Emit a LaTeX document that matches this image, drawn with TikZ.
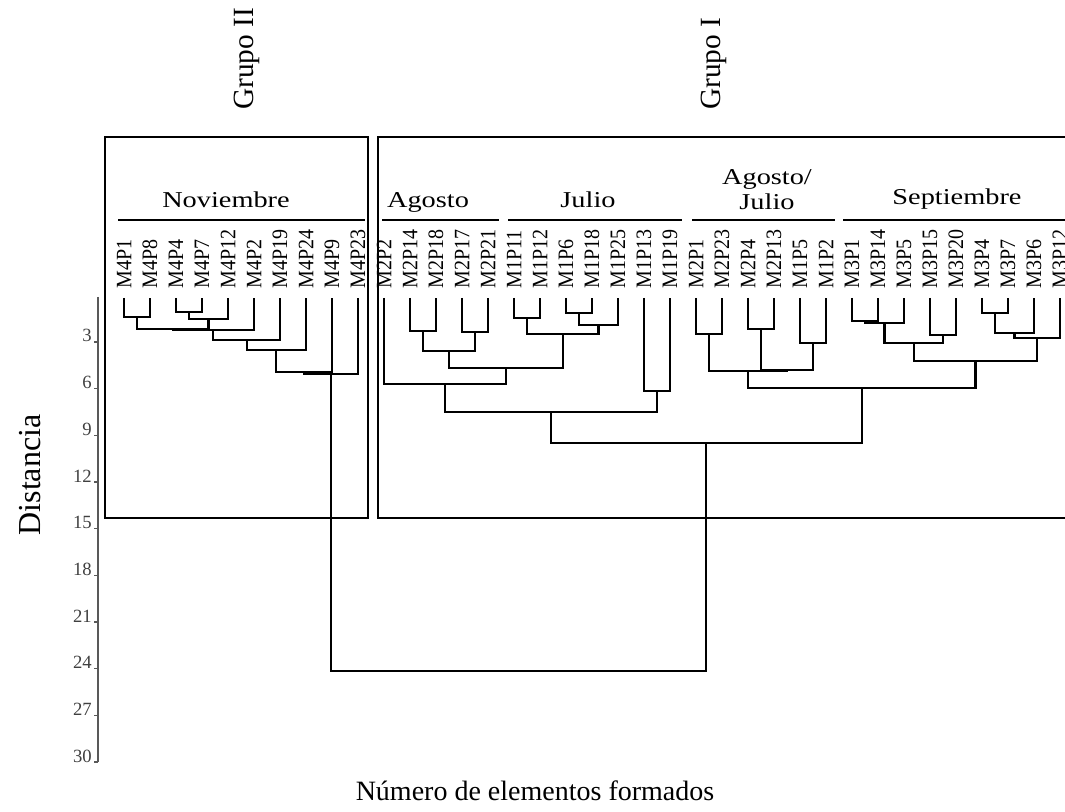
\documentclass[tikz,border=0pt]{standalone}
\usepackage{graphicx}
\usepackage{fontspec}
\setmainfont{Liberation Serif}
\usetikzlibrary{calc}
\newcommand{\wide}[1]{\scalebox{1.25}[1]{#1}}
\newcommand{\tall}[1]{\scalebox{1}[1.1]{#1}}
% left, right, height, name of the new cluster
\newcommand{\mergeat}[4]{%
  \draw[link] (#1) |- (#2 |- 0,#3) -- (#2);
  \coordinate (#4) at ($(#1 |- 0,#3)!.5!(#2 |- 0,#3)$);
}
\begin{document}
\begin{tikzpicture}[x=0.75pt,y=-0.75pt,
  link/.style={line width=1.6pt},
  leaf/.style={rotate=90,anchor=west,inner sep=0pt,font=\fontsize{15}{15}\selectfont},
  month/.style={anchor=base,inner sep=0pt,align=center,font=\fontsize{17}{19}\selectfont},
  title/.style={inner sep=0pt,font=\fontsize{22}{22}\selectfont},
  tick/.style={anchor=base east,inner sep=0pt,text=black!75,font=\fontsize{14}{14}\selectfont},
  axis/.style={line width=1pt,black!65}]
\useasboundingbox (0,0) rectangle (1065,812);

% leaves
\foreach \lab [count=\i from 0] in {M4P1,M4P8,M4P4,M4P7,M4P12,M4P2,M4P19,M4P24,M4P9,M4P23,
    M2P2,M2P14,M2P18,M2P17,M2P21,M1P11,M1P12,M1P6,M1P18,M1P25,M1P13,M1P19,
    M2P1,M2P23,M2P4,M2P13,M1P5,M1P2,
    M3P1,M3P14,M3P5,M3P15,M3P20,M3P4,M3P7,M3P6,M3P12}{
  \coordinate (\lab) at ({124+26*\i},298);
  \node[leaf] (t\lab) at ({124+26*\i},289) {\tall{\lab}};
}

% Grupo II
\mergeat{M4P1}{M4P8}{317}{a1}
\mergeat{M4P4}{M4P7}{312}{a2}
\mergeat{a2}{M4P12}{319}{a3}
\mergeat{a1}{a3}{329}{a4}
\mergeat{a4}{M4P2}{330}{a5}
\mergeat{a5}{M4P19}{340}{a6}
\mergeat{a6}{M4P24}{350}{a7}
\mergeat{a7}{M4P9}{372}{a8}
\mergeat{a8}{M4P23}{374}{g2}

% Grupo I: Agosto, Julio
\mergeat{M2P14}{M2P18}{331}{b1}
\mergeat{M2P17}{M2P21}{332}{b2}
\mergeat{b1}{b2}{351}{b3}
\mergeat{M1P11}{M1P12}{318}{b4}
\mergeat{M1P6}{M1P18}{313}{b5}
\mergeat{b5}{M1P25}{325}{b6}
\mergeat{b4}{b6}{334}{b7}
\mergeat{b3}{b7}{368}{b8}
\mergeat{M2P2}{b8}{384}{b9}
\mergeat{M1P13}{M1P19}{391}{b10}
\mergeat{b9}{b10}{412}{b11}

% Agosto/Julio
\mergeat{M2P1}{M2P23}{334}{c1}
\mergeat{M2P4}{M2P13}{329}{c2}
\mergeat{M1P5}{M1P2}{343}{c3}
\mergeat{c2}{c3}{370}{c4}
\mergeat{c1}{c4}{371}{c5}

% Septiembre
\mergeat{M3P1}{M3P14}{321}{d1}
\mergeat{d1}{M3P5}{323}{d2}
\mergeat{M3P15}{M3P20}{335}{d3}
\mergeat{d2}{d3}{343}{d4}
\mergeat{M3P4}{M3P7}{313}{d5}
\mergeat{d5}{M3P6}{333}{d6}
\mergeat{d6}{M3P12}{338}{d7}
\mergeat{d4}{d7}{361}{d8}
\mergeat{c5}{d8}{388}{d9}
\mergeat{b11}{d9}{443}{g1}
\mergeat{g2}{g1}{671}{root}

% group boxes
\draw[link] (105,137) rectangle (368,518);
\draw[link] (1066,137) -- (378,137) -- (378,518) -- (1066,518);

% month headers
\node[month] (nov) at (226,208) {\wide{Noviembre}};
\node[month] (ago) at (428,208) {\wide{Agosto}};
\node[month] (jul) at (588,208) {\wide{Julio}};
\node[month] (agojul) at (767,210) {\wide{Agosto/}\\\wide{Julio}};
\node[month] (sep) at (957,205) {\wide{Septiembre}};
\draw[link] (118,220) -- (365,220);
\draw[link] (382,220) -- (499,220);
\draw[link] (508,220) -- (682,220);
\draw[link] (692,220) -- (835,220);
\draw[link] (843,220) -- (1066,220);

% titles
\node[title,rotate=90,anchor=west] (g2t) at (247,110) {Grupo II};
\node[title,rotate=90,anchor=west] (g1t) at (714,110) {Grupo I};
\node[title,rotate=90,font=\fontsize{24}{24}\selectfont] (ylab) at (30,475) {Distancia};
\node[title,anchor=base,font=\fontsize{21}{21}\selectfont] (xlab) at (535,801) {Número de elementos formados};

% axis
\draw[axis] (98,297) -- (98,762);
\foreach \d in {3,6,...,30}{
  \coordinate (k\d) at (98,{295.3+15.56*\d});
  \draw[axis] (k\d) -- ++(-4,0);
  \node[tick] (n\d) at ($(k\d)+(-6,0)$) {\d};
}
\end{tikzpicture}
\end{document}
